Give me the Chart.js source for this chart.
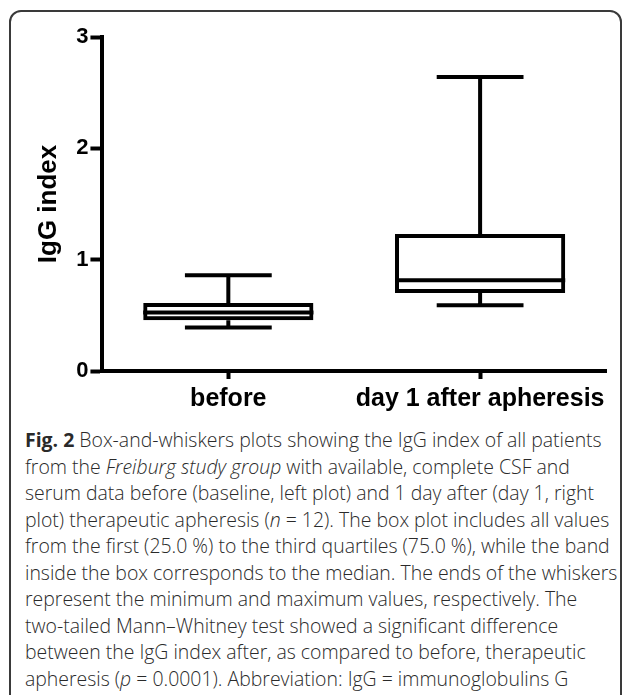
<!DOCTYPE html>
<html>
<head>
<meta charset="utf-8">
<script src="https://cdn.jsdelivr.net/npm/chart.js@4.4.1/dist/chart.umd.min.js"></script>
<style>
  html, body { margin: 0; padding: 0; background: #fff; }
  body { width: 625px; height: 695px; position: relative; overflow: hidden; }
  #frame { position: absolute; left: 9px; top: 10px; width: 613px; height: 720px;
           border: 2px solid #3a3a3a; border-radius: 12px; box-sizing: border-box; }
  #chartBox { position: absolute; left: 0; top: 0; width: 625px; height: 420px; }
  #caption { position: absolute; left: 25px; top: 427px; color: #2a2a2a;
             font-family: "Open Sans", sans-serif; font-weight: 300; line-height: 26.5px; }
  #caption div { white-space: nowrap; }
  #caption b { font-weight: 700; }
</style>
</head>
<body>
<div id="frame"></div>
<div id="chartBox"><canvas id="c" width="625" height="420"></canvas></div>
<div id="caption">
  <div id="line1"><b>Fig. 2</b> Box-and-whiskers plots showing the IgG index of all patients</div>
  <div>from the <i>Freiburg study group</i> with available, complete CSF and</div>
  <div>serum data before (baseline, left plot) and 1 day after (day 1, right</div>
  <div>plot) therapeutic apheresis (<i>n</i> = 12). The box plot includes all values</div>
  <div>from the first (25.0 %) to the third quartiles (75.0 %), while the band</div>
  <div>inside the box corresponds to the median. The ends of the whiskers</div>
  <div>represent the minimum and maximum values, respectively. The</div>
  <div>two-tailed Mann–Whitney test showed a significant difference</div>
  <div>between the IgG index after, as compared to before, therapeutic</div>
  <div>apheresis (<i>p</i> = 0.0001). Abbreviation: IgG = immunoglobulins G</div>
</div>
<script>
const categories = ['before', 'day 1 after apheresis'];
const minValues = [0.39, 0.59];
const q1Values = [0.455, 0.70];
const medianValues = [0.525, 0.815];
const q3Values = [0.61, 1.23];
const maxValues = [0.86, 2.64];
const yTickValues = [0, 1, 2, 3];

// caption sizing: fit first line to the reference width
(function () {
  const cap = document.getElementById('caption');
  cap.style.fontSize = '20px';
  const probe = document.createElement('span');
  probe.innerHTML = document.getElementById('line1').innerHTML;
  probe.style.whiteSpace = 'nowrap';
  cap.appendChild(probe);
  const pw = probe.getBoundingClientRect().width;
  cap.removeChild(probe);
  cap.style.fontSize = (20 * 577 / pw).toFixed(2) + 'px';
})();

const LINE = 4;
const boxPlotPlugin = {
  id: 'boxWhiskers',
  afterDatasetsDraw(chart) {
    const meta = chart.getDatasetMeta(0);
    const y = chart.scales.y;
    const ctx = chart.ctx;
    ctx.save();
    ctx.strokeStyle = '#000';
    ctx.lineWidth = LINE;
    ctx.lineCap = 'butt';
    meta.data.forEach((bar, i) => {
      const x = bar.x;
      const half = bar.width / 2;
      const capHalf = bar.width * 0.255;
      const yMin = y.getPixelForValue(minValues[i]);
      const yQ1 = y.getPixelForValue(q1Values[i]);
      const yMed = y.getPixelForValue(medianValues[i]);
      const yQ3 = y.getPixelForValue(q3Values[i]);
      const yMax = y.getPixelForValue(maxValues[i]);
      ctx.beginPath();
      ctx.moveTo(x, yQ3); ctx.lineTo(x, yMax);
      ctx.moveTo(x, yQ1); ctx.lineTo(x, yMin);
      ctx.moveTo(x - capHalf, yMax); ctx.lineTo(x + capHalf, yMax);
      ctx.moveTo(x - capHalf, yMin); ctx.lineTo(x + capHalf, yMin);
      ctx.moveTo(x - half, yMed); ctx.lineTo(x + half, yMed);
      ctx.stroke();
    });
    ctx.restore();
  }
};

const FONT = '"Liberation Sans", Arial, sans-serif';
new Chart(document.getElementById('c'), {
  type: 'bar',
  data: {
    labels: categories,
    datasets: [{
      label: 'IgG index',
      data: q1Values.map((q1, i) => [q1, q3Values[i]]),
      backgroundColor: 'rgba(0,0,0,0)',
      borderColor: '#000',
      borderWidth: LINE,
      borderSkipped: false,
      barPercentage: 0.676,
      categoryPercentage: 1
    }]
  },
  options: {
    responsive: false,
    animation: false,
    devicePixelRatio: 1,
    layout: { padding: { left: 33, right: 19, top: 37, bottom: 1 } },
    plugins: { legend: { display: false }, tooltip: { enabled: false } },
    scales: {
      x: {
        type: 'category',
        offset: true,
        grid: { display: true, drawOnChartArea: false, offset: false, tickLength: 8, tickWidth: LINE, tickColor: '#000' },
        border: { display: true, width: LINE, color: '#000' },
        ticks: { color: '#000', padding: 5, maxRotation: 0, minRotation: 0, autoSkip: false,
                 font: { family: FONT, size: 25, weight: 'bold' } }
      },
      y: {
        min: 0, max: 3,
        afterBuildTicks(scale) { scale.ticks = yTickValues.map(v => ({ value: v })); },
        grid: { display: true, drawOnChartArea: false, tickLength: 12, tickWidth: LINE, tickColor: '#000' },
        border: { display: true, width: LINE, color: '#000' },
        ticks: { color: '#000', padding: 2, font: { family: FONT, size: 22, weight: 'bold' } },
        title: { display: true, text: 'IgG index', color: '#000', padding: { top: 0, bottom: 10 },
                 font: { family: FONT, size: 26, weight: 'bold' } }
      }
    }
  },
  plugins: [boxPlotPlugin]
});
</script>
</body>
</html>
